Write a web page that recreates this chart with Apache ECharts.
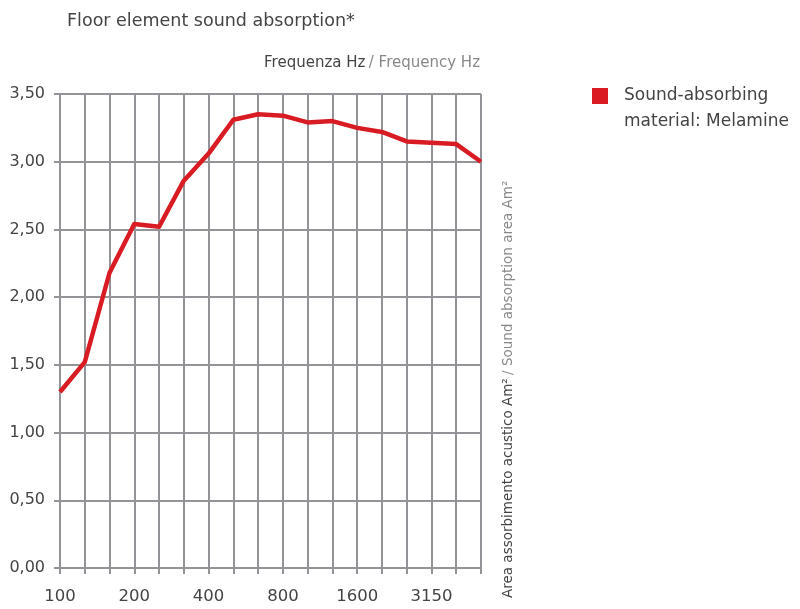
<!DOCTYPE html>
<html>
<head>
<meta charset="utf-8">
<script src="https://cdn.jsdelivr.net/npm/echarts@6/dist/echarts.min.js"></script>
<style>html,body{margin:0;padding:0;background:#fff;}#c{width:800px;height:609px;}</style>
</head>
<body>
<div id="c"></div>
<script>
var categories = ['100','125','160','200','250','315','400','500','630','800','1000','1250','1600','2000','2500','3150','4000','5000'];
var melamine = [1.30,1.52,2.18,2.54,2.52,2.86,3.06,3.31,3.35,3.34,3.29,3.30,3.25,3.22,3.15,3.14,3.13,3.00];
var seriesName = 'Sound-absorbing material: Melamine';
var titleText = 'Floor element sound absorption*';

var FONT = 'DejaVu Sans';
var chart = echarts.init(document.getElementById('c'), null, {renderer: 'canvas'});
chart.setOption({
  animation: false,
  backgroundColor: '#fff',
  title: {
    text: titleText, left: 62, top: 7,
    textStyle: {fontFamily: FONT, fontSize: 17.5, fontWeight: 'normal', color: '#444'}
  },
  legend: {
    left: 592, top: 57, padding: 0,
    icon: 'rect', itemWidth: 16, itemHeight: 16, itemGap: 8,
    formatter: function () { return ' \nSound-absorbing\nmaterial: Melamine'; },
    textStyle: {fontFamily: FONT, fontSize: 17, color: '#444', lineHeight: 26, padding: [0, 0, 0, 11]},
    data: [seriesName]
  },
  grid: {left: 60, right: 319, top: 94, bottom: 41, containLabel: false},
  xAxis: {
    type: 'category', data: categories, boundaryGap: false,
    axisLine: {show: true, lineStyle: {color: '#939398', width: 2}},
    axisTick: {show: true, interval: 0, length: 6, lineStyle: {color: '#939398', width: 2}},
    axisLabel: {interval: 2, margin: 20, fontFamily: FONT, fontSize: 16.5, color: '#444'},
    splitLine: {show: true, interval: 0, lineStyle: {color: '#939398', width: 2}}
  },
  yAxis: {
    type: 'value', min: 0, max: 3.5, interval: 0.5,
    axisLine: {show: true, lineStyle: {color: '#939398', width: 2}},
    axisTick: {show: true, length: 6, lineStyle: {color: '#939398', width: 2}},
    axisLabel: {margin: 15, fontFamily: FONT, fontSize: 16, color: '#444',
      formatter: function (v) { return v.toFixed(2).replace('.', ','); }},
    splitLine: {show: true, lineStyle: {color: '#939398', width: 2}}
  },
  graphic: [
    {
      type: 'text', right: 800 - 480, top: 56,
      style: {
        text: '{a|Frequenza Hz} {b|/ Frequency Hz}',
        rich: {
          a: {fontFamily: FONT, fontSize: 15, fill: '#444'},
          b: {fontFamily: FONT, fontSize: 15, fill: '#888'}
        }
      }
    },
    {
      type: 'text', x: 508, y: 598, rotation: Math.PI / 2,
      style: {
        text: '{a|Area assorbimento acustico Am²} {b|/ Sound absorption area Am²}',
        textAlign: 'left', textVerticalAlign: 'middle',
        rich: {
          a: {fontFamily: FONT, fontSize: 13.5, fill: '#444'},
          b: {fontFamily: FONT, fontSize: 13.5, fill: '#888'}
        }
      }
    }
  ],
  series: [{
    name: seriesName, type: 'line', data: melamine,
    symbol: 'none', smooth: false,
    itemStyle: {color: '#d91c24'},
    lineStyle: {color: '#d91c24', width: 4.5, join: 'round'}
  }]
});
</script>
</body>
</html>
